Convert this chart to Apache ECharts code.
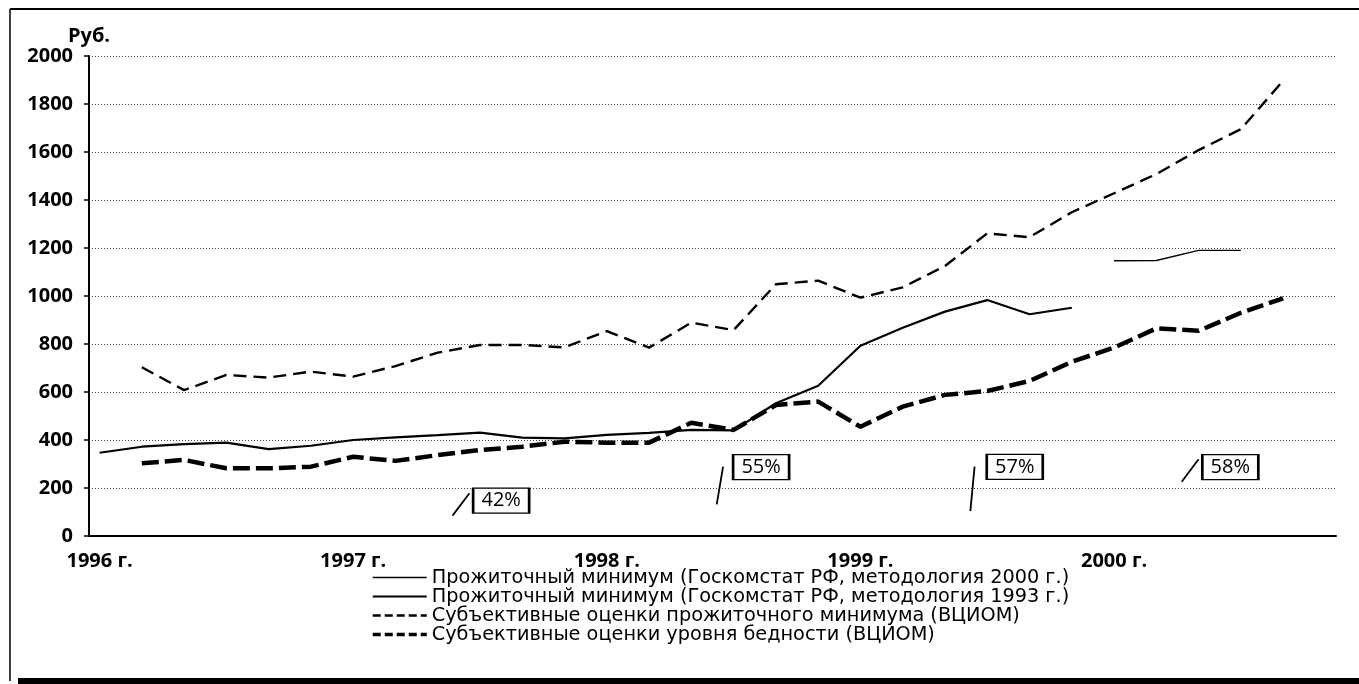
<!DOCTYPE html>
<html>
<head>
<meta charset="utf-8">
<title>Прожиточный минимум</title>
<script src="https://cdn.jsdelivr.net/npm/echarts@6/dist/echarts.min.js"></script>
<style>
    html, body { margin: 0; padding: 0; background: #fff; }
    #chart { width: 1359px; height: 684px; }
</style>
</head>
<body>
<div id="chart"></div>
<script>
// годы на оси X (по месяцам, подпись только у января)
const years = [1996, 1997, 1998, 1999, 2000]
const lastMonth = 11 // ось заканчивается ноябрём 2000 г.

// точки наблюдений - раз в два месяца
const periods = [
    '1996-01', '1996-03', '1996-05', '1996-07', '1996-09', '1996-11',
    '1997-01', '1997-03', '1997-05', '1997-07', '1997-09', '1997-11',
    '1998-01', '1998-03', '1998-05', '1998-07', '1998-09', '1998-11',
    '1999-01', '1999-03', '1999-05', '1999-07', '1999-09', '1999-11',
    '2000-01', '2000-03', '2000-05', '2000-07', '2000-09'
]

const minimum2000 = [
    null, null, null, null, null, null,
    null, null, null, null, null, null,
    null, null, null, null, null, null,
    null, null, null, null, null, null,
    1147, 1148, 1190, 1190, null
]
const minimum1993 = [
    347, 372, 383, 389, 362, 376,
    400, 411, 420, 431, 410, 407,
    421, 430, 442, 440, 553, 626,
    793, 868, 935, 983, 924, 951,
    null, null, null, null, null
]
const subjectiveMinimum = [
    null, 703, 608, 671, 660, 685,
    664, 708, 764, 796, 796, 786,
    854, 785, 889, 858, 1049, 1064,
    993, 1036, 1125, 1261, 1245, 1349,
    1428, 1508, 1608, 1695, 1897
]
const subjectivePoverty = [
    null, 303, 317, 282, 282, 289,
    330, 313, 337, 358, 372, 393,
    389, 389, 472, 442, 546, 560,
    455, 539, 588, 604, 646, 726,
    785, 865, 855, 930, 990
]

const seriesNames = [
    'Прожиточный минимум (Госкомстат РФ, методология 2000 г.)',
    'Прожиточный минимум (Госкомстат РФ, методология 1993 г.)',
    'Субъективные оценки прожиточного минимума (ВЦИОМ)',
    'Субъективные оценки уровня бедности (ВЦИОМ)'
]

// выноски с процентами (x - месяцы от января 1996 г., y - руб.)
const noteLabels = ['42%', '55%', '57%', '58%']
const noteBoxX = [19.5, 31.8, 43.8, 54.0]
const noteBoxY = [147, 287, 288, 287]
const noteSlashX0 = [17.2, 29.7, 41.7, 51.7]
const noteSlashY0 = [85, 132, 104, 226]
const noteSlashX1 = [18.0, 30.0, 41.9, 52.5]
const noteSlashY1 = [178, 289, 289, 320]

const months = []
years.forEach(y => {
    for (let m = 1; m <= 12; m++) {
        if (y === years[years.length - 1] && m > lastMonth) break
        months.push(y + '-' + (m < 10 ? '0' + m : m))
    }
})

function toMonthly(values) {
    return months.map(mm => {
        const i = periods.indexOf(mm)
        return i >= 0 ? values[i] : null
    })
}

const font = '"Open Sans", "DejaVu Sans", sans-serif'
const legendFont = '"DejaVu Sans", sans-serif'

// стили линий: толщина и штрих
const lineWidths = [1.4, 2.2, 2.4, 4.5]
const lineTypes = ['solid', 'solid', [13, 7], [17, 6]]

function lineSeries(i, values) {
    return {
        name: seriesNames[i],
        type: 'line',
        data: toMonthly(values),
        connectNulls: true,
        symbol: 'none',
        smooth: false,
        lineStyle: { color: '#000', width: lineWidths[i], type: lineTypes[i] },
        itemStyle: { color: '#000' },
        z: 3
    }
}

const series = [
    lineSeries(0, minimum2000),
    lineSeries(1, minimum1993),
    lineSeries(2, subjectiveMinimum),
    lineSeries(3, subjectivePoverty)
]

// косые черты у выносок
noteLabels.forEach((lbl, i) => {
    series.push({
        name: 'slash' + i,
        type: 'line',
        xAxisIndex: 1,
        symbol: 'none',
        data: [[noteSlashX0[i], noteSlashY0[i]], [noteSlashX1[i], noteSlashY1[i]]],
        lineStyle: { color: '#000', width: 1.8 },
        z: 4
    })
})

// рамки с процентами
series.push({
    name: 'notes',
    type: 'scatter',
    xAxisIndex: 1,
    symbol: 'rect',
    symbolSize: [56, 25],
    data: noteLabels.map((lbl, i) => ({ name: lbl, value: [noteBoxX[i], noteBoxY[i]] })),
    itemStyle: { color: '#fff', borderColor: '#000', borderWidth: 1.8, opacity: 1 },
    label: {
        show: true,
        position: 'inside',
        formatter: p => p.name,
        color: '#000',
        fontFamily: font,
        fontSize: 20
    },
    z: 5
})

const chart = echarts.init(document.getElementById('chart'))
chart.setOption({
    animation: false,
    backgroundColor: '#fff',
    grid: {
        left: 89,
        right: 23,
        top: 56,
        bottom: 148,
        containLabel: false
    },
    legend: {
        data: seriesNames.map((n, i) => ({
            name: n,
            lineStyle: { color: '#000', width: Math.min(lineWidths[i], 3.5), type: i > 1 ? [8, 4] : 'solid' }
        })),
        orient: 'vertical',
        left: 371,
        top: 568,
        padding: 0,
        itemWidth: 54,
        itemHeight: 12,
        itemGap: 0,
        itemStyle: { opacity: 0 },
        textStyle: { color: '#000', fontFamily: legendFont, fontSize: 19.3, lineHeight: 18.5 }
    },
    xAxis: [{
        type: 'category',
        data: months,
        boundaryGap: true,
        axisLine: { lineStyle: { color: '#000', width: 2 } },
        axisTick: { interval: 11, length: 5, lineStyle: { color: '#000', width: 1.5 } },
        axisLabel: {
            interval: 11,
            margin: 15,
            color: '#000',
            fontFamily: font,
            fontSize: 20,
            fontWeight: 'bold',
            formatter: v => v.slice(0, 4) + ' г.'
        },
        splitLine: { show: false }
    }, {
        type: 'value',
        min: 0,
        max: months.length,
        show: false
    }],
    yAxis: {
        type: 'value',
        min: 0,
        max: 2000,
        interval: 200,
        name: 'Руб.',
        nameLocation: 'end',
        nameGap: 10,
        nameTextStyle: { color: '#000', fontFamily: font, fontSize: 20, fontWeight: 'bold' },
        axisLine: { show: true, lineStyle: { color: '#000', width: 2 } },
        axisTick: { show: true, length: 5, lineStyle: { color: '#000', width: 1.5 } },
        axisLabel: {
            margin: 16,
            color: '#000',
            fontFamily: font,
            fontSize: 20,
            fontWeight: 'bold',
            formatter: v => String(v)
        },
        splitLine: { show: true, lineStyle: { color: '#444', width: 1, type: [1, 2] } }
    },
    // рамка вокруг рисунка
    graphic: [
        { type: 'line', shape: { x1: 10, y1: 9, x2: 1359, y2: 9 }, style: { stroke: '#000', lineWidth: 2 } },
        { type: 'line', shape: { x1: 10, y1: 9, x2: 10, y2: 681 }, style: { stroke: '#000', lineWidth: 1.5 } },
        { type: 'rect', shape: { x: 18, y: 678, width: 1341, height: 6 }, style: { fill: '#000' } }
    ],
    series: series
})
</script>
</body>
</html>
